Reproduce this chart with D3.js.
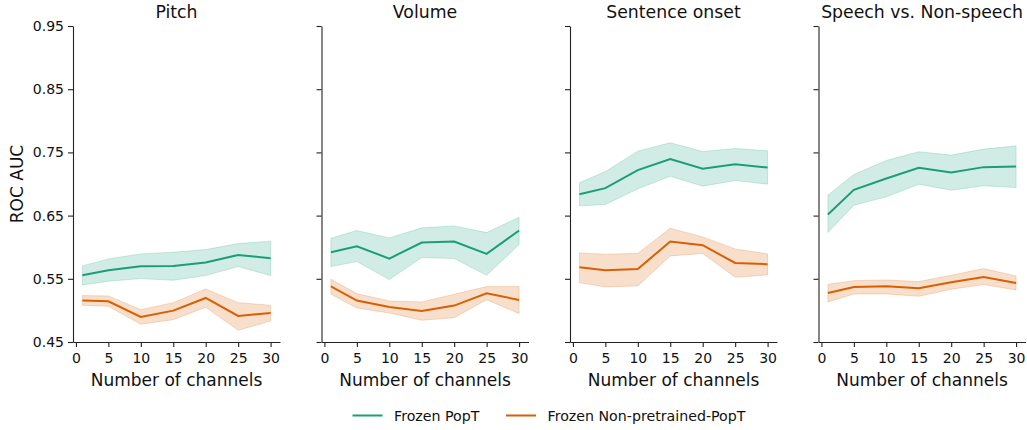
<!DOCTYPE html>
<html><head><meta charset="utf-8">
<script src="https://cdn.jsdelivr.net/npm/d3@7"></script>
<style>body{margin:0;background:#fff}svg{display:block;font-family:"DejaVu Sans",sans-serif}</style>
</head><body><svg id="c" width="1027" height="430"></svg>
<script>
const channels = [1, 5, 10, 15, 20, 25, 30];
const panelTitles = ["Pitch", "Volume", "Sentence onset", "Speech vs. Non-speech"];
const yTicks = [0.45, 0.55, 0.65, 0.75, 0.85, 0.95];
const xTicks = [0, 5, 10, 15, 20, 25, 30];
const seriesNames = ["Frozen PopT", "Frozen Non-pretrained-PopT"];

// Frozen PopT: mean, lower, upper per panel
const popMean = [
  [0.5556, 0.5635, 0.5699, 0.5704, 0.5757, 0.5878, 0.5825],
  [0.5920, 0.6015, 0.5820, 0.6073, 0.6089, 0.5894, 0.6264],
  [0.6839, 0.6934, 0.7219, 0.7393, 0.7240, 0.7314, 0.7261],
  [0.6517, 0.6908, 0.7087, 0.7256, 0.7182, 0.7267, 0.7277]
];
const popLow = [
  [0.5403, 0.5461, 0.5503, 0.5477, 0.5551, 0.5693, 0.5551],
  [0.5693, 0.5772, 0.5487, 0.5836, 0.5820, 0.5556, 0.6042],
  [0.6654, 0.6675, 0.6923, 0.7124, 0.6966, 0.7055, 0.6997],
  [0.6232, 0.6665, 0.6797, 0.6997, 0.6902, 0.6971, 0.6944]
];
const popHigh = [
  [0.5704, 0.5815, 0.5894, 0.5920, 0.5962, 0.6058, 0.6095],
  [0.6142, 0.6264, 0.6147, 0.6306, 0.6337, 0.6232, 0.6475],
  [0.7019, 0.7198, 0.7520, 0.7652, 0.7515, 0.7562, 0.7525],
  [0.6823, 0.7150, 0.7372, 0.7510, 0.7457, 0.7552, 0.7604]
];
// Frozen Non-pretrained-PopT
const npMean = [
  [0.5155, 0.5144, 0.4896, 0.4996, 0.5197, 0.4912, 0.4959],
  [0.5382, 0.5155, 0.5054, 0.4991, 0.5076, 0.5271, 0.5165],
  [0.5683, 0.5635, 0.5656, 0.6089, 0.6031, 0.5751, 0.5730],
  [0.5276, 0.5371, 0.5382, 0.5350, 0.5445, 0.5530, 0.5435]
];
const npLow = [
  [0.5081, 0.5065, 0.4780, 0.4854, 0.5049, 0.4685, 0.4833],
  [0.5255, 0.5038, 0.4959, 0.4843, 0.4885, 0.5170, 0.4949],
  [0.5440, 0.5371, 0.5387, 0.5862, 0.5900, 0.5524, 0.5561],
  [0.5134, 0.5260, 0.5260, 0.5223, 0.5334, 0.5408, 0.5323]
];
const npHigh = [
  [0.5234, 0.5229, 0.5012, 0.5123, 0.5339, 0.5123, 0.5081],
  [0.5493, 0.5266, 0.5149, 0.5134, 0.5255, 0.5377, 0.5377],
  [0.5910, 0.5889, 0.5904, 0.6300, 0.6163, 0.5973, 0.5894],
  [0.5413, 0.5471, 0.5482, 0.5456, 0.5556, 0.5662, 0.5545]
];

(function () {
const colors = ["#1b9e77", "#d95f02"];
const svg = d3.select("#c");
const panelLeft = [73, 321.5, 570, 818.5];
const pw = 207, plotTop = 26, plotBottom = 342;

const y = d3.scaleLinear().domain([0.45, 0.95]).range([plotBottom, plotTop]);

panelTitles.forEach((t, i) => {
  const g = svg.append("g").attr("transform", `translate(${panelLeft[i]},0)`);
  const x = d3.scaleLinear().domain([1 - 1.45, 30 + 1.45]).range([0, pw]);
  const groups = [
    {mean: popMean[i], low: popLow[i], high: popHigh[i], c: colors[0]},
    {mean: npMean[i], low: npLow[i], high: npHigh[i], c: colors[1]}
  ];
  groups.forEach(s => {
    const pts = channels.map((ch, k) => ({x: ch, lo: s.low[k], hi: s.high[k]}));
    g.append("path").datum(pts)
      .attr("d", d3.area().x(d => x(d.x)).y0(d => y(d.lo)).y1(d => y(d.hi)))
      .attr("fill", s.c).attr("fill-opacity", 0.2)
      .attr("stroke", s.c).attr("stroke-opacity", 0.2).attr("stroke-width", 1);
  });
  groups.forEach(s => {
    const pts = channels.map((ch, k) => ({x: ch, m: s.mean[k]}));
    g.append("path").datum(pts)
      .attr("d", d3.line().x(d => x(d.x)).y(d => y(d.m)))
      .attr("fill", "none").attr("stroke", s.c).attr("stroke-width", 2);
  });
  const xa = g.append("g").attr("transform", `translate(0,${plotBottom})`)
    .call(d3.axisBottom(x).tickValues(xTicks).tickSize(5).tickPadding(6).tickSizeOuter(0));
  const ya = g.append("g")
    .call(d3.axisLeft(y).tickValues(yTicks).tickSize(5).tickPadding(4).tickSizeOuter(0)
      .tickFormat(i === 0 ? d3.format(".2f") : () => ""));
  [xa, ya].forEach(a => {
    a.select(".domain").attr("stroke", "#222").attr("stroke-width", 1.1);
    a.selectAll(".tick line").attr("stroke", "#222").attr("stroke-width", 1.1);
    a.selectAll("text").attr("fill", "#111").style("font-size", "14px")
      .style("font-family", "DejaVu Sans, sans-serif");
  });
  g.append("text").attr("x", pw / 2).attr("y", 18).attr("text-anchor", "middle")
    .style("font-size", "17.3px").attr("fill", "#111").text(t);
  g.append("text").attr("x", pw / 2).attr("y", 386).attr("text-anchor", "middle")
    .style("font-size", "17px").attr("fill", "#111").text("Number of channels");
});

svg.append("text").attr("transform", `translate(23,${(plotTop + plotBottom) / 2}) rotate(-90)`)
  .attr("text-anchor", "middle").style("font-size", "17px").attr("fill", "#111").text("ROC AUC");

const legX = [352.5, 506];
seriesNames.forEach((n, i) => {
  const lg = svg.append("g").attr("transform", `translate(${legX[i]},415.5)`);
  lg.append("line").attr("x1", 0).attr("x2", 30).attr("stroke", colors[i]).attr("stroke-width", 2);
  lg.append("text").attr("x", 41.5).attr("y", 5).style("font-size", "14.2px").attr("fill", "#111").text(n);
});
})();
</script></body></html>
